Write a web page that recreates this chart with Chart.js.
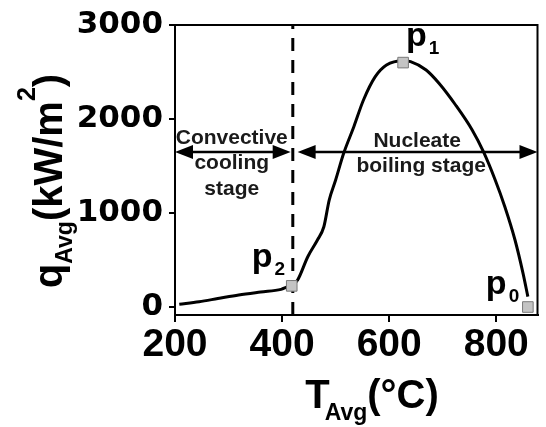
<!DOCTYPE html>
<html lang="en">
    <head>
        <meta charset="UTF-8" />
        <title>Average heat flux vs average temperature</title>
        <script src="https://cdn.jsdelivr.net/npm/chart.js@4"></script>
        <style>
            html, body { margin: 0; padding: 0; background: #fff; }
        </style>
    </head>
    <body>
        <canvas id="myChart" width="546" height="427"></canvas>

        <script>
            // curve: T_Avg (°C) and q_Avg (kW/m2)
            const tempAvg = [208, 245, 280, 319, 360, 398, 411, 418, 429, 448, 466, 478, 488, 500, 515, 534, 552, 574, 595, 626, 640, 669, 693, 724, 755, 776, 798, 816, 835, 850, 859];
            const fluxAvg = [30, 56, 90, 128, 160, 188, 216, 225, 287, 535, 713, 854, 1138, 1351, 1635, 1918, 2202, 2450, 2574, 2620, 2610, 2521, 2380, 2149, 1883, 1652, 1351, 1067, 713, 358, 110];

            // marked points p0, p1, p2
            const markNames = ["0", "1", "2"];
            const markTemp = [859, 626, 418];
            const markFlux = [0, 2600, 225];

            // boundary between the two stages
            const stageBoundary = 420;
            const arrowFlux = 1650;
            const stageRanges = [[200, 416], [429, 877]];

            const xTicks = [200, 400, 600, 800];
            const yTicks = [0, 1000, 2000, 3000];
            const xMin = 200, xMax = 877;
            const yMin = -85, yMax = 3000;

            // draws a run of text pieces (normal / sub / sup) starting at x
            function drawRun(ctx, parts, x, y) {
                parts.forEach((p) => {
                    ctx.font = p.font;
                    ctx.fillText(p.text, x + (p.dx || 0), y + (p.dy || 0));
                    x += ctx.measureText(p.text).width + (p.dx || 0);
                });
            }
            function runWidth(ctx, parts) {
                let w = 0;
                parts.forEach((p) => {
                    ctx.font = p.font;
                    w += ctx.measureText(p.text).width + (p.dx || 0);
                });
                return w;
            }

            const bigFont = "bold 40px 'Liberation Sans', Arial, sans-serif";
            const subFont = "bold 23px 'Liberation Sans', Arial, sans-serif";

            const decorPlugin = {
                id: "decor",
                afterDatasetsDraw(chart) {
                    const ctx = chart.ctx;
                    const xs = chart.scales.x;
                    const ys = chart.scales.y;
                    const area = chart.chartArea;
                    ctx.save();

                    // box round the plot
                    ctx.strokeStyle = "#000";
                    ctx.lineWidth = 2;
                    ctx.strokeRect(area.left, area.top, area.right - area.left, area.bottom - area.top);

                    // double arrows for the two stages
                    const ay = ys.getPixelForValue(arrowFlux);
                    ctx.fillStyle = "#000";
                    ctx.lineWidth = 2.5;
                    stageRanges.forEach((r) => {
                        const x0 = xs.getPixelForValue(r[0]);
                        const x1 = xs.getPixelForValue(r[1]);
                        const head = 18, half = 7;
                        ctx.beginPath();
                        ctx.moveTo(x0 + head - 2, ay);
                        ctx.lineTo(x1 - head + 2, ay);
                        ctx.stroke();
                        ctx.beginPath();
                        ctx.moveTo(x0, ay);
                        ctx.lineTo(x0 + head, ay - half);
                        ctx.lineTo(x0 + head, ay + half);
                        ctx.closePath();
                        ctx.fill();
                        ctx.beginPath();
                        ctx.moveTo(x1, ay);
                        ctx.lineTo(x1 - head, ay - half);
                        ctx.lineTo(x1 - head, ay + half);
                        ctx.closePath();
                        ctx.fill();
                    });

                    // stage captions
                    ctx.fillStyle = "#1a1a1a";
                    ctx.font = "bold 21px 'Liberation Sans', Arial, sans-serif";
                    ctx.textAlign = "center";
                    ctx.textBaseline = "middle";
                    const cx1 = xs.getPixelForValue(306);
                    const cy1 = ys.getPixelForValue(1800);
                    ["Convective", "cooling", "stage"].forEach((t, i) => ctx.fillText(t, cx1, cy1 + i * 25.5));
                    const cx2 = xs.getPixelForValue(656);
                    const cy2 = ys.getPixelForValue(1760);
                    ctx.fillText("Nucleate", cx2 - 2, cy2);
                    ctx.fillText("boiling stage", cx2 + 2, cy2 + 25);

                    // point names p0, p1, p2
                    ctx.fillStyle = "#000";
                    ctx.textAlign = "left";
                    ctx.textBaseline = "alphabetic";
                    const nameOffsets = [[-42, -13], [3, -17], [-40, -19]];
                    markNames.forEach((n, i) => {
                        const px = xs.getPixelForValue(markTemp[i]) + nameOffsets[i][0];
                        const py = ys.getPixelForValue(markFlux[i]) + nameOffsets[i][1];
                        drawRun(ctx, [
                            { text: "p", font: "bold 34px 'Liberation Sans', Arial, sans-serif" },
                            { text: n, font: "bold 19px 'Liberation Sans', Arial, sans-serif", dx: 2, dy: 8 },
                        ], px, py);
                    });

                    // x axis title: T_Avg(°C)
                    const xParts = [
                        { text: "T", font: bigFont },
                        { text: "Avg", font: subFont, dx: -5, dy: 12 },
                        { text: "(°C)", font: bigFont },
                    ];
                    const xw = runWidth(ctx, xParts);
                    drawRun(ctx, xParts, 372 - xw / 2, 408);

                    // y axis title: q_Avg(kW/m^2), rotated
                    const yParts = [
                        { text: "q", font: bigFont },
                        { text: "Avg", font: subFont, dy: 10 },
                        { text: "(kW/m", font: bigFont },
                        { text: "2", font: "bold 25px 'Liberation Sans', Arial, sans-serif", dy: -27 },
                        { text: ")", font: bigFont },
                    ];
                    const yw = runWidth(ctx, yParts);
                    ctx.translate(62, 181);
                    ctx.rotate(-Math.PI / 2);
                    drawRun(ctx, yParts, -yw / 2, 0);

                    ctx.restore();
                },
            };

            const config = {
                type: "line",
                data: {
                    datasets: [
                        {
                            label: "q_Avg",
                            data: tempAvg.map((t, i) => ({ x: t, y: fluxAvg[i] })),
                            borderColor: "#000",
                            borderWidth: 3,
                            pointRadius: 0,
                            cubicInterpolationMode: "monotone",
                            fill: false,
                            order: 2,
                        },
                        {
                            label: "boundary",
                            data: [
                                { x: stageBoundary, y: yMin },
                                { x: stageBoundary, y: yMax },
                            ],
                            borderColor: "#000",
                            borderWidth: 3,
                            borderDash: [13, 9],
                            pointRadius: 0,
                            fill: false,
                            order: 3,
                        },
                        {
                            label: "marks",
                            data: markTemp.map((t, i) => ({ x: t, y: markFlux[i] })),
                            showLine: false,
                            pointStyle: "rect",
                            pointRadius: 7.5,
                            backgroundColor: "#c4c4c4",
                            borderColor: "#7a7a7a",
                            borderWidth: 1,
                            order: 1,
                        },
                    ],
                },
                options: {
                    responsive: false,
                    animation: false,
                    layout: {
                        padding: { left: 0, right: 3, top: 25, bottom: 0 },
                    },
                    plugins: {
                        legend: { display: false },
                        tooltip: { enabled: false },
                    },
                    scales: {
                        x: {
                            type: "linear",
                            min: xMin,
                            max: xMax,
                            afterFit(scale) {
                                scale.height = 112;
                            },
                            afterBuildTicks(scale) {
                                scale.ticks = xTicks.map((v) => ({ value: v }));
                            },
                            ticks: {
                                color: "#000",
                                font: { family: "'Liberation Sans', Arial, sans-serif", size: 39, weight: "bold" },
                                padding: 0,
                                maxRotation: 0,
                                callback: (v) => String(v),
                            },
                            grid: {
                                drawOnChartArea: false,
                                color: "#000",
                                lineWidth: 2,
                                tickLength: 7,
                            },
                            border: { color: "#000", width: 2 },
                        },
                        y: {
                            type: "linear",
                            min: yMin,
                            max: yMax,
                            afterFit(scale) {
                                scale.width = 175;
                            },
                            afterBuildTicks(scale) {
                                scale.ticks = yTicks.map((v) => ({ value: v }));
                            },
                            ticks: {
                                color: "#000",
                                font: { family: "'DejaVu Sans', sans-serif", size: 31, weight: "bold" },
                                padding: 6,
                                callback: (v) => String(v),
                            },
                            grid: {
                                drawOnChartArea: false,
                                color: "#000",
                                lineWidth: 2,
                                tickLength: 6,
                            },
                            border: { color: "#000", width: 2 },
                        },
                    },
                },
                plugins: [decorPlugin],
            };

            const myChart = new Chart(document.getElementById("myChart"), config);
        </script>
    </body>
</html>
